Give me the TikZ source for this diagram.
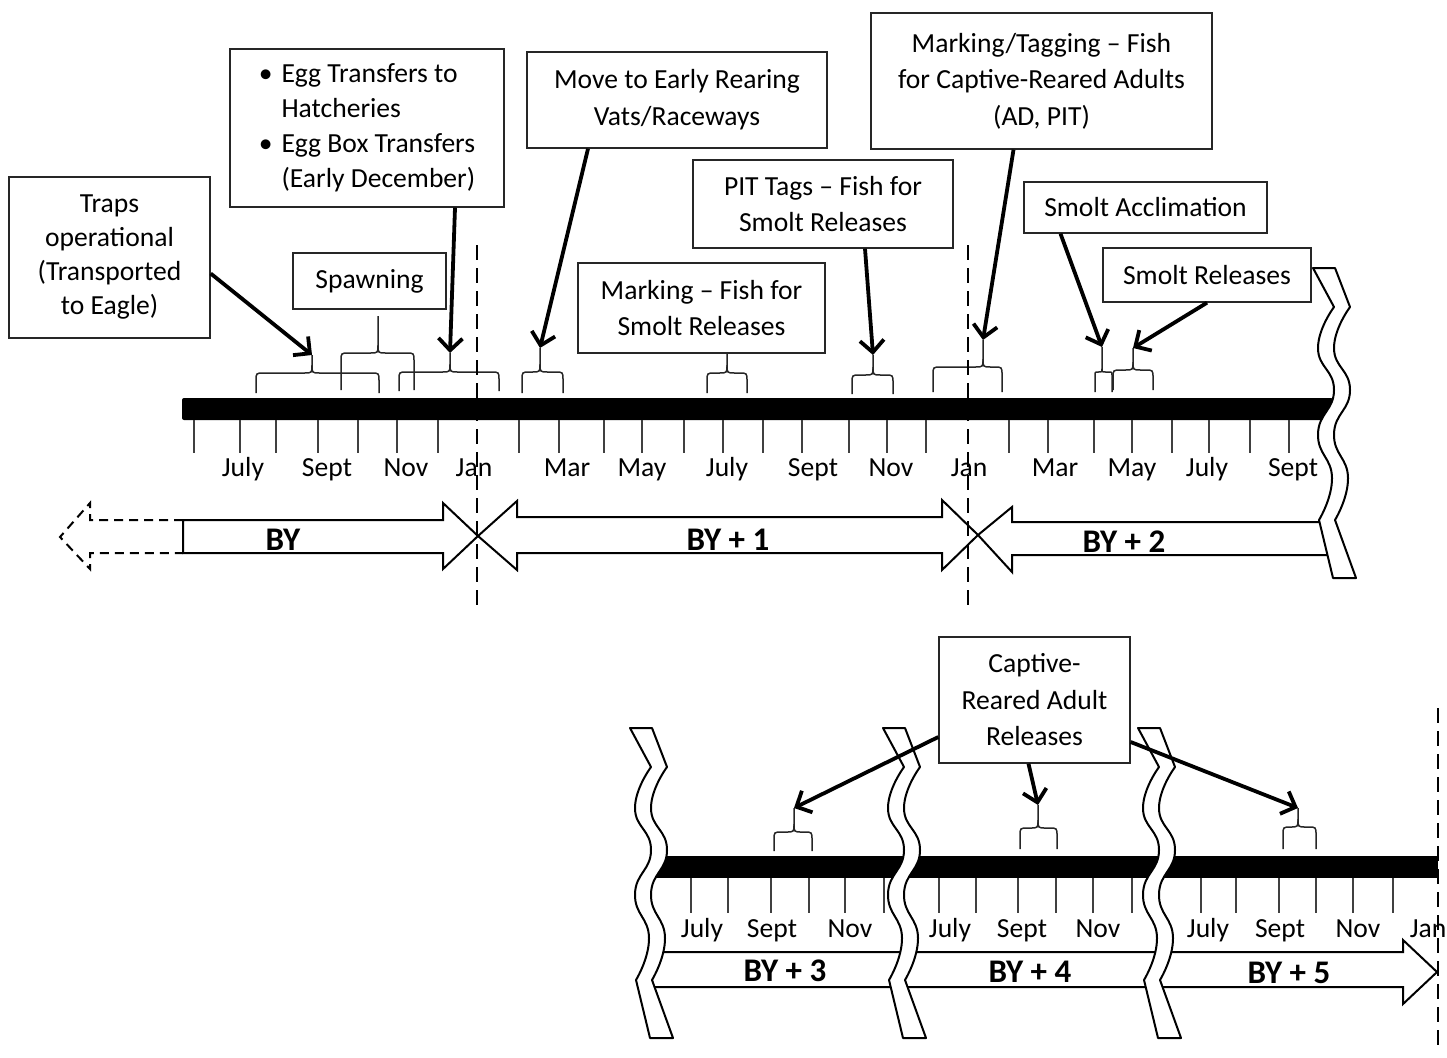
\documentclass[tikz,border=0pt]{standalone}
\usepackage{fontspec}
\setmainfont{Carlito}
\usetikzlibrary{arrows.meta}
\newcommand\cbr[8]{%
  \coordinate (#1) at (#4,#7);
  \draw[brc] (#2,#5) -- (#2,#6+#8) .. controls (#2,#6) .. (#2+#8,#6) -- (#4-#8,#6) .. controls (#4,#6) .. (#4,#6-#8) -- (#1);
  \draw[brc] (#3,#5) -- (#3,#6+#8) .. controls (#3,#6) .. (#3-#8,#6) -- (#4+#8,#6) .. controls (#4,#6) .. (#4,#6-#8);
}
\newcommand\wavebrk[2]{%
  \begin{scope}[shift={(#1,#2)}]
    \filldraw[wave] (0,0) -- plot[smooth,tension=0.85] coordinates {(21,39) (5,80) (21,122) (5,166) (19,210) (6,252)} -- (20,310) -- (43,310)
      -- plot[smooth,tension=0.85] coordinates {(22,252) (35,210) (21,166) (37,122) (21,80) (37,39)} -- (22,0) -- cycle;
  \end{scope}}
\begin{document}
\begin{tikzpicture}[x=1pt,y=-1pt,
  box/.style={draw=black!85, line width=1.4pt, inner sep=0pt, align=center},
  lbl/.style={inner sep=0pt, anchor=base, font=\fontsize{27.6}{30}\selectfont},
  bylbl/.style={inner sep=0pt, anchor=base, font=\bfseries\fontsize{33}{36}\selectfont},
  tick/.style={draw=black!75, line width=1.3pt},
  brc/.style={draw=black!85, line width=1.5pt},
  arr/.style={draw=black, line width=3.8pt, -{Straight Barb[length=12pt,width=24pt]}},
  jan/.style={draw=black, line width=1.8pt, dash pattern=on 15pt off 8pt},
  band/.style={draw=black, line width=2pt, fill=white, line join=miter},
  wave/.style={draw=black, line width=2pt, fill=white, line join=round},
]
\useasboundingbox (0,0) rectangle (1447,1057);

% ---------- boxes ----------
\node[box, minimum width=201pt, minimum height=161pt, font=\fontsize{27.6}{34}\selectfont] (traps) at (109.5,257.5)
  {Traps\\operational\\(Transported\\to Eagle)};
\node[box, minimum width=274pt, minimum height=158pt, font=\fontsize{27.6}{35}\selectfont] (egg) at (367,128)
  {\begin{tabular}{@{}l@{\hspace{9pt}}l@{}}\textbullet & Egg Transfers to\\ & Hatcheries\\ \textbullet & Egg Box Transfers\\ & (Early December)\end{tabular}};
\node[box, minimum width=153pt, minimum height=56pt, font=\fontsize{27.6}{34}\selectfont] (spawn) at (369.5,281) {Spawning};
\node[box, minimum width=300pt, minimum height=96pt, font=\fontsize{27.6}{37}\selectfont] (move) at (677,100)
  {Move to Early Rearing\\Vats/Raceways};
\node[box, minimum width=247pt, minimum height=90pt, font=\fontsize{27.6}{36}\selectfont] (marksmolt) at (701.5,308)
  {Marking -- Fish for\\Smolt Releases};
\node[box, minimum width=260pt, minimum height=88pt, font=\fontsize{27.6}{36}\selectfont] (pit) at (823,204)
  {PIT Tags -- Fish for\\Smolt Releases};
\node[box, minimum width=341pt, minimum height=136pt, font=\fontsize{27.6}{36.5}\selectfont] (marktag) at (1041.5,81)
  {Marking/Tagging -- Fish\\for Captive-Reared Adults\\(AD, PIT)};
\node[box, minimum width=243pt, minimum height=51pt, font=\fontsize{27.6}{34}\selectfont] (smoltacc) at (1145.5,207.5) {Smolt Acclimation};
\node[box, minimum width=208pt, minimum height=54pt, font=\fontsize{27.6}{34}\selectfont] (smoltrel) at (1207,275) {Smolt Releases};
\node[box, minimum width=191pt, minimum height=126pt, font=\fontsize{27.6}{36.5}\selectfont] (captive) at (1034.5,700)
  {Captive-\\Reared Adult\\Releases};

% ---------- top timeline ----------
\fill[black, rounded corners=2pt] (182,398) rectangle (1333,420);
\foreach \x in {194,240,276,318,358,397,438,519,559,604,642,684,723,763,802,849,887,926,1009,1048,1094,1132,1172,1209,1250,1289}
  \draw[tick] (\x,420) -- (\x,453);
\node[lbl] (t1) at (243,476) {July};
\node[lbl] (t2) at (327,476) {Sept};
\node[lbl] (t3) at (406,476) {Nov};
\node[lbl] (t4) at (474,476) {Jan};
\node[lbl] (t5) at (567,476) {Mar};
\node[lbl] (t6) at (642,476) {May};
\node[lbl] (t7) at (727,476) {July};
\node[lbl] (t8) at (813,476) {Sept};
\node[lbl] (t9) at (891,476) {Nov};
\node[lbl] (t10) at (969,476) {Jan};
\node[lbl] (t11) at (1055,476) {Mar};
\node[lbl] (t12) at (1132,476) {May};
\node[lbl] (t13) at (1207,476) {July};
\node[lbl] (t14) at (1293,476) {Sept};

% ---------- top year bands ----------
\draw[band, dash pattern=on 9pt off 6pt, fill=none] (183,520) -- (90,520) -- (90,503) -- (60,537) -- (90,569) -- (90,553) -- (183,553);
\draw[band] (183,520) -- (443,520) -- (443,503) -- (478,536) -- (443,569) -- (443,553) -- (183,553) -- cycle;
\draw[band] (478,536) -- (517,501) -- (517,517) -- (942,517) -- (942,500) -- (978,535) -- (942,570) -- (942,553) -- (517,553) -- (517,570) -- cycle;
\draw[band] (978,535) -- (1012,507) -- (1012,522) -- (1332,522) -- (1332,555) -- (1012,555) -- (1012,572) -- cycle;
\node[bylbl] (by0) at (283,550) {BY};
\node[bylbl] (by1) at (728,550) {BY + 1};
\node[bylbl] (by2) at (1124,552) {BY + 2};

% ---------- top braces ----------
\cbr{b1}{256}{379}{312}{393}{373}{355}{8}
\cbr{b2}{341}{414}{378}{390}{353}{316}{8}
\cbr{b3}{399}{499}{450}{391}{372}{353}{8}
\cbr{b4}{522}{563}{540}{393}{372}{348}{8}
\cbr{b5}{707}{747}{727}{393}{373}{353}{8}
\cbr{b6}{852}{893}{873}{394}{375}{355}{8}
\cbr{b7}{933}{1002}{983}{392}{367}{340}{8}
\cbr{b8}{1095}{1112}{1102}{392}{372}{347}{3.5}
\cbr{b9}{1113}{1153}{1133}{390}{370}{348}{8}

% ---------- dashed year lines ----------
\draw[jan] (477,245) -- (477,607);
\draw[jan] (968,245) -- (968,607);

\wavebrk{1313}{268}

% ---------- bottom timeline ----------
\fill[black] (652,856) rectangle (1438,878);
\foreach \x in {691,728,771,809,845,884,939,976,1018,1056,1093,1132,1201,1236,1279,1316,1353,1393}
  \draw[tick] (\x,878) -- (\x,913);
\node[lbl] (u1) at (702,937) {July};
\node[lbl] (u2) at (772,937) {Sept};
\node[lbl] (u3) at (850,937) {Nov};
\node[lbl] (u4) at (950,937) {July};
\node[lbl] (u5) at (1022,937) {Sept};
\node[lbl] (u6) at (1098,937) {Nov};
\node[lbl] (u7) at (1208,937) {July};
\node[lbl] (u8) at (1280,937) {Sept};
\node[lbl] (u9) at (1358,937) {Nov};
\node[lbl] (u10) at (1428,937) {Jan};
\draw[band] (652,952) -- (1403,952) -- (1403,940) -- (1437,972) -- (1403,1004) -- (1403,987) -- (652,987) -- cycle;
\node[bylbl] (by3) at (785,981) {BY + 3};
\node[bylbl] (by4) at (1030,982) {BY + 4};
\node[bylbl] (by5) at (1289,983) {BY + 5};

\cbr{bA}{774}{812}{794}{851}{832}{808}{8}
\cbr{bB}{1020}{1057}{1038}{849}{828}{805}{8}
\cbr{bC}{1283}{1316}{1298}{849}{827}{808}{8}

\draw[jan] (1438,708) -- (1438,1050);

\wavebrk{630}{728}
\wavebrk{883}{728}
\wavebrk{1138}{728}

% ---------- arrows ----------
\draw[arr] ([yshift=-16pt]traps.east) -- (b1);
\draw[arr] ([xshift=88pt]egg.south) -- (b3);
\draw[arr] ([xshift=-89pt]move.south) -- (b4);
\draw[arr] ([xshift=42pt]pit.south) -- (b6);
\draw[arr] ([xshift=-28pt]marktag.south) -- (b7);
\draw[arr] ([xshift=-85pt]smoltacc.south) -- (b8);
\draw[arr] (smoltrel.south) -- (b9);
\draw[arr] ([yshift=-37pt]captive.west) -- (bA);
\draw[arr] ([xshift=-6pt]captive.south) -- (bB);
\draw[arr] ([yshift=-42pt]captive.east) -- (bC);
\end{tikzpicture}
\end{document}
